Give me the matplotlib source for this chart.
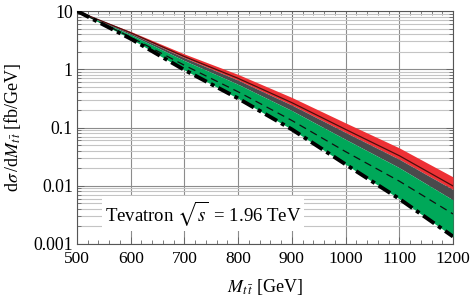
import numpy as np
import matplotlib
matplotlib.use("Agg")
import matplotlib.pyplot as plt
from matplotlib.ticker import LogLocator, MultipleLocator, NullFormatter, FixedLocator, FixedFormatter

plt.rcParams['font.family'] = ['Liberation Serif', 'DejaVu Serif']
plt.rcParams['mathtext.fontset'] = 'stix'

# Data
m_tt = [500, 600, 700, 800, 900, 1000, 1100, 1200]
red_upper = [10.0, 4.45, 1.83, 0.814, 0.328, 0.120, 0.0447, 0.0142]
central_solid = [10.0, 4.23, 1.65, 0.698, 0.267, 0.0928, 0.0328, 0.00992]
red_lower = [10.0, 4.13, 1.575, 0.650, 0.243, 0.0824, 0.0285, 0.00860]
gray_lower = [10.0, 3.91, 1.41, 0.551, 0.195, 0.0625, 0.0204, 0.00571]
central_dashed = [10.0, 3.55, 1.17, 0.41, 0.132, 0.0385, 0.0120, 0.00328]
lower_dashdot = [10.0, 3.34, 0.973, 0.3155, 0.0928, 0.0233, 0.00596, 0.001345]

yticks = [0.001, 0.01, 0.1, 1, 10]
yticklabels = ['0.001', '0.01', '0.1', '1', '10']
xticks = [500, 600, 700, 800, 900, 1000, 1100, 1200]

fig = plt.figure(figsize=(4.7, 3.0), dpi=100)
ax = fig.add_axes([77/470, 1-244/300, (453-77)/470, (244-11)/300])

red = '#EE3135'
gray = '#4A4A4C'
green = '#00A859'

ax.fill_between(m_tt, red_lower, red_upper, color=red, lw=0, zorder=3)
ax.fill_between(m_tt, gray_lower, red_lower, color=gray, lw=0, zorder=3)
ax.fill_between(m_tt, lower_dashdot, gray_lower, color=green, lw=0, zorder=3)
ax.plot(m_tt, central_solid, color='#4A0E0E', lw=0.9, zorder=4)
ax.plot(m_tt, central_dashed, color='#111111', lw=0.9, ls=(0, (6, 4)), zorder=4)
ax.plot(m_tt, lower_dashdot, color='black', lw=2.8, ls=(0, (3.5, 1.2, 1, 1.2)), zorder=5)

ax.set_yscale('log')
ax.set_xlim(500, 1200)
ax.set_ylim(0.001, 10)

ax.yaxis.set_major_locator(FixedLocator(yticks))
ax.yaxis.set_major_formatter(FixedFormatter(yticklabels))
ax.yaxis.set_minor_locator(LogLocator(base=10, subs=np.arange(2, 10)))
ax.yaxis.set_minor_formatter(NullFormatter())
ax.xaxis.set_major_locator(FixedLocator(xticks))
ax.xaxis.set_minor_locator(MultipleLocator(20))

ax.grid(True, which='major', axis='x', color='#8C8C8C', lw=0.8, zorder=1)
ax.grid(True, which='major', axis='y', color='#8C8C8C', lw=0.8, zorder=1)
ax.grid(True, which='minor', axis='y', color='#C4C4C4', lw=0.8, zorder=1)
ax.set_axisbelow(True)

ax.tick_params(which='both', direction='in', top=True, right=True, color='#666666')
ax.tick_params(axis='y', labelsize=12.8, pad=3)
ax.tick_params(axis='x', labelsize=12.5, pad=5)
ax.tick_params(which='major', length=5, width=0.7)
ax.tick_params(which='minor', length=3, width=0.6)
for s in ax.spines.values():
    s.set_color('#555555')
    s.set_linewidth(0.8)

ax.set_xlabel(r'$M_{t\,\bar{t}}$ [GeV]', fontsize=13, labelpad=7)
ax.set_ylabel(r'd$\sigma\,$/d$M_{t\,\bar{t}}$ [fb/GeV]', fontsize=13, labelpad=7)

ax.text(735, 0.0033, r'Tevatron $\sqrt{s}\,$ = 1.96 TeV', fontsize=13.5, ha='center', va='center',
        bbox=dict(facecolor='white', edgecolor='none', pad=2), zorder=6)

fig.savefig('out.png', dpi=100)
